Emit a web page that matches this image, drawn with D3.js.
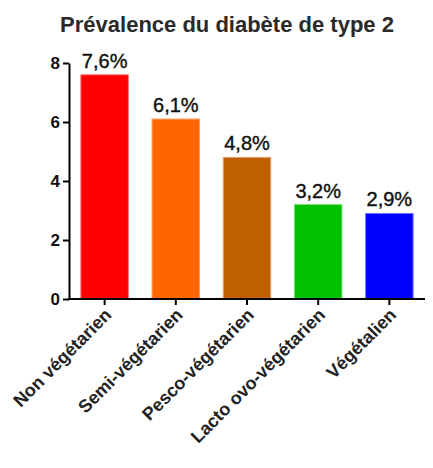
<!DOCTYPE html>
<html>
<head>
<meta charset="utf-8">
<script src="https://cdn.jsdelivr.net/npm/d3@7"></script>
<style>
  body { margin: 0; background: #fff; }
  text { font-family: "Liberation Sans", Arial, sans-serif; }
</style>
</head>
<body>
<svg id="chart" width="433" height="468"></svg>
<script>
// chart data
var categories = ["Non végétarien", "Semi-végétarien", "Pesco-végétarien", "Lacto ovo-végétarien", "Végétalien"];
var values = [7.6, 6.1, 4.8, 3.2, 2.9];
var valueLabels = ["7,6%", "6,1%", "4,8%", "3,2%", "2,9%"];
var barColors = ["#FF0000", "#FF6600", "#C06000", "#00C000", "#0000FF"];
var edgeColors = ["#FF7070", "#FF9A60", "#E0A070", "#70E070", "#7070FF"];
var yTicks = [0, 2, 4, 6, 8];

var svg = d3.select("#chart");
var plotLeft = 69, plotRight = 425, plotTop = 63, plotBottom = 299;

var x = d3.scaleBand()
    .domain(categories)
    .range([plotLeft, plotRight])
    .paddingInner(0.333)
    .paddingOuter(0.167);

var y = d3.scaleLinear()
    .domain([0, 8])
    .range([plotBottom, plotTop]);

// title
svg.append("text")
    .attr("x", 227)
    .attr("y", 32)
    .attr("text-anchor", "middle")
    .attr("font-size", "22px")
    .attr("font-weight", "bold")
    .attr("fill", "#2a2a2a")
    .text("Prévalence du diabète de type 2");

// bars
svg.selectAll("rect.bar")
    .data(values)
    .enter().append("rect")
    .attr("class", "bar")
    .attr("x", function (d, i) { return x(categories[i]); })
    .attr("width", x.bandwidth())
    .attr("y", function (d) { return y(d); })
    .attr("height", function (d) { return plotBottom - y(d); })
    .attr("fill", function (d, i) { return barColors[i]; })
    .attr("stroke", function (d, i) { return edgeColors[i]; })
    .attr("stroke-width", 1);

// value labels
svg.selectAll("text.val")
    .data(values)
    .enter().append("text")
    .attr("class", "val")
    .attr("x", function (d, i) { return x(categories[i]) + x.bandwidth() / 2; })
    .attr("y", function (d) { return y(d) - 7; })
    .attr("text-anchor", "middle")
    .attr("font-size", "20px")
    .attr("fill", "#111")
    .attr("stroke", "#111")
    .attr("stroke-width", 0.4)
    .text(function (d, i) { return valueLabels[i]; });

// y axis
var yAxis = svg.append("g")
    .attr("transform", "translate(" + plotLeft + ",0)")
    .call(d3.axisLeft(y).tickValues(yTicks).tickSize(6).tickPadding(3).tickSizeOuter(0));
yAxis.select(".domain").attr("stroke", "#000").attr("stroke-width", 2);
yAxis.selectAll(".tick line").attr("stroke", "#000").attr("stroke-width", 2);
yAxis.selectAll(".tick text")
    .attr("font-size", "17px")
    .attr("font-weight", "bold")
    .attr("fill", "#111")
    .attr("font-family", "Liberation Sans, Arial, sans-serif");

// x axis
var xAxis = svg.append("g")
    .attr("transform", "translate(0," + plotBottom + ")")
    .call(d3.axisBottom(x).tickSize(6).tickSizeOuter(0));
xAxis.select(".domain").attr("stroke", "#000").attr("stroke-width", 2)
    .attr("d", "M" + (plotLeft - 1) + ",0H" + plotRight);
xAxis.selectAll(".tick line").attr("stroke", "#000").attr("stroke-width", 2);
xAxis.selectAll(".tick text")
    .attr("font-size", "18px")
    .attr("font-weight", "bold")
    .attr("fill", "#222")
    .attr("font-family", "Liberation Sans, Arial, sans-serif")
    .attr("text-anchor", "end")
    .attr("dy", null)
    .attr("y", 0)
    .attr("transform", "translate(8,17) rotate(-45)");
</script>
</body>
</html>
